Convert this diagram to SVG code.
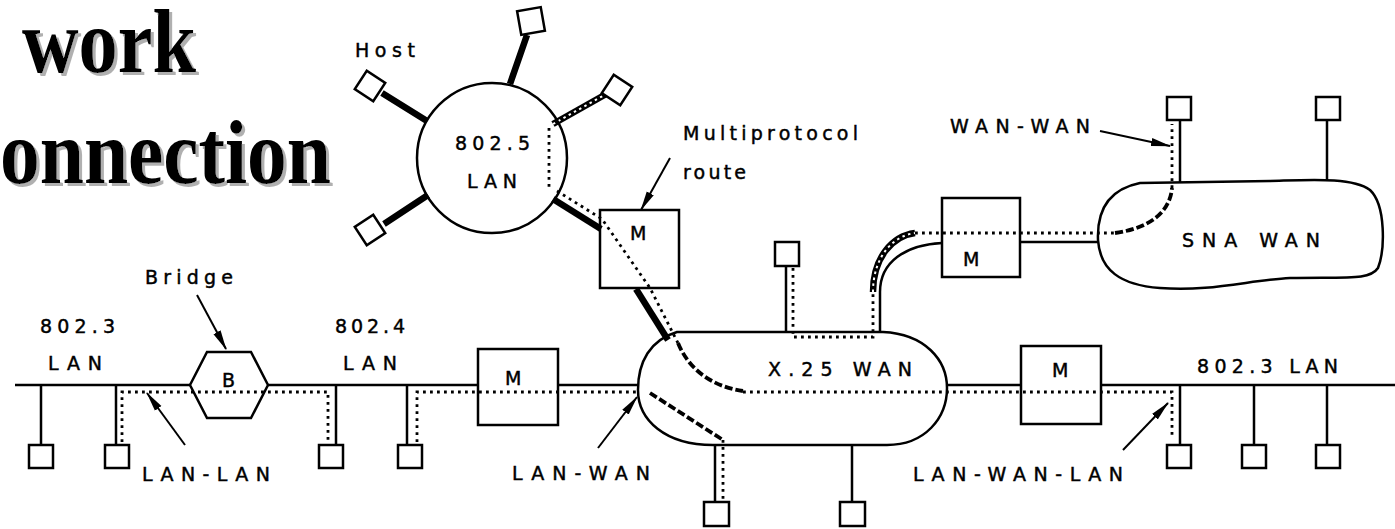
<svg xmlns="http://www.w3.org/2000/svg" width="1395" height="529" viewBox="0 0 1395 529">
<defs>
<marker id="ah" markerUnits="userSpaceOnUse" markerWidth="20" markerHeight="11" refX="19" refY="5.5" orient="auto"><path d="M0,1.5 L20,5.5 L0,9.5 z" fill="#000"/></marker>
<filter id="sh" x="-5%" y="-5%" width="115%" height="120%">
<feOffset in="SourceAlpha" dx="3" dy="3" result="o"/>
<feFlood flood-color="#b0b0b0"/>
<feComposite in2="o" operator="in" result="s"/>
<feMerge><feMergeNode in="s"/><feMergeNode in="SourceGraphic"/></feMerge>
</filter>
</defs>
<style>
.ln{stroke:#000;stroke-width:2.5;fill:none}
.tk{stroke:#000;stroke-width:6.5;fill:none}
.dt{stroke:#000;stroke-width:2.8;fill:none;stroke-dasharray:2.8 4.2}
.dh{stroke:#000;stroke-width:3.8;fill:none;stroke-dasharray:8 3}
.wd{stroke:#fff;stroke-width:2;fill:none;stroke-dasharray:2.5 3.5}
.host{fill:#fff;stroke:#000;stroke-width:2.5}
.nb{fill:none;stroke:#000;stroke-width:2.5}
.ar{stroke:#000;stroke-width:2;fill:none;marker-end:url(#ah)}
.t{font-family:"DejaVu Sans","Liberation Sans",sans-serif;font-size:19px;fill:#000;stroke:#000;stroke-width:0.45}
.ttl{font-family:"Liberation Serif","Times New Roman",serif;font-weight:bold;font-size:90px;fill:#000}
</style>
<rect width="1395" height="529" fill="#fff"/>
<g id="title" filter="url(#sh)">
<text class="ttl" x="22" y="72" textLength="174" lengthAdjust="spacingAndGlyphs">work</text>
<text class="ttl" x="0" y="183" textLength="331" lengthAdjust="spacingAndGlyphs">onnection</text>
</g>
<g id="connectors">
<path class="ln" d="M15,385 H190 M268,385 H478 M558,385 H639 M947,385 H1021 M1101,385 H1395"/>
<path class="ln" d="M41,385 V445 M116,385 V445 M336,385 V445 M407,385 V445 M1180,385 V445 M1254,385 V445 M1327,385 V445"/>
<path class="ln" d="M786,266 V332 M715,445 V502 M852,445 V502 M1180,120 V182 M1327,120 V180"/>
<path class="ln" d="M1020,242 H1099 M880,332 V292 C880,262 905,245 942,243"/>
<path class="tk" d="M382,93 L427,121 M384,224 L428,195 M527,35 L510,84"/>
<path class="tk" stroke-width="8" d="M553,124 L608,93"/>
<path class="wd" d="M553,124 L608,93"/>
<path class="tk" d="M553,199 L601,229"/>
<path class="tk" stroke-width="5" d="M636,289 L668,340"/>
<path class="dt" d="M549,128 V188 M557,191 L602,219 L650,288 L678,343"/>
<path class="dh" d="M678,343 C690,372 715,387 743,391"/>
<path class="dt" d="M743,392 H1172 V437"/>
<path class="dt" d="M122,442 V392 H328 V442"/>
<path class="dt" d="M417,442 V392 H640"/>
<path class="dh" d="M650,393 L723,440"/>
<path class="dt" d="M723,440 V500"/>
<path class="dt" d="M793,268 V337 H873 V290"/>
<path class="tk" stroke-width="7" d="M873,292 C873,258 892,236 915,233"/>
<path class="wd" d="M873,292 C873,258 892,236 915,233"/>
<path class="dt" d="M915,233 H1115"/>
<path class="dh" d="M1115,233 C1150,228 1170,212 1172,188"/>
<path class="dt" d="M1172,188 V124"/>
<path class="ar" d="M670,158 L641,210"/>
<path class="ar" d="M1100,131 L1170,146"/>
<path class="ar" d="M197,295 L226,349"/>
<path class="ar" d="M185,445 L147,393"/>
<path class="ar" d="M598,448 L637,397"/>
<path class="ar" d="M1123,450 L1168,403"/>
</g>
<g id="lan8025">
<circle class="nb" cx="492" cy="158" r="75"/>
<text class="t" x="455" y="150" textLength="75">802.5</text>
<text class="t" x="467" y="188" textLength="50">LAN</text>
</g>
<g id="ring-hosts">
<rect class="host" x="-11" y="-11" width="22" height="22" transform="translate(370,86) rotate(33)"/>
<rect class="host" x="-11" y="-11" width="22" height="22" transform="translate(370,230) rotate(-33)"/>
<rect class="host" x="-12" y="-12" width="24" height="24" transform="translate(531,21) rotate(-10)"/>
<rect class="host" x="-11" y="-11" width="22" height="22" transform="translate(617,90) rotate(33)"/>
<text class="t" x="355" y="57" textLength="60">Host</text>
</g>
<g id="router1">
<rect class="nb" x="600" y="210" width="79" height="78"/>
<text class="t" x="630" y="240" textLength="18">M</text>
<text class="t" x="683" y="140" textLength="175">Multiprotocol</text>
<text class="t" x="683" y="179" textLength="63">route</text>
</g>
<g id="x25wan">
<path class="nb" d="M677,332 L883,332 C925,334 947,360 947,388 C947,418 925,445 887,445 L713,445 C665,445 638,420 638,390 C638,362 650,340 677,332 Z"/>
<text class="t" x="768" y="376" textLength="144">X.25 WAN</text>
</g>
<g id="x25-hosts">
<rect class="host" x="775" y="242" width="24" height="24"/>
<rect class="host" x="704" y="502" width="25" height="24"/>
<rect class="host" x="840" y="502" width="25" height="24"/>
</g>
<g id="router2">
<rect class="nb" x="942" y="198" width="78" height="79"/>
<text class="t" x="963" y="266" textLength="20">M</text>
</g>
<g id="snawan">
<path class="nb" d="M1140,183 L1270,181 C1310,180 1352,177 1370,190 C1386,205 1385,250 1378,268 C1370,280 1350,277 1290,278 C1250,280 1210,292 1160,288 C1120,285 1100,270 1098,240 C1097,215 1105,190 1140,183 Z"/>
<text class="t" x="1182" y="247" textLength="138">SNA WAN</text>
<rect class="host" x="1167" y="97" width="24" height="23"/>
<rect class="host" x="1316" y="97" width="24" height="23"/>
<text class="t" x="950" y="133" textLength="140">WAN-WAN</text>
</g>
<g id="lan8023-left">
<text class="t" x="40" y="333" textLength="75">802.3</text>
<text class="t" x="48" y="370" textLength="54">LAN</text>
<rect class="host" x="29" y="445" width="24" height="23"/>
<rect class="host" x="105" y="445" width="24" height="23"/>
</g>
<g id="bridge">
<polygon class="nb" points="190,385 207,352 251,352 268,385 251,418 207,418"/>
<text class="t" x="222" y="387" textLength="16">B</text>
<text class="t" x="145" y="284" textLength="88">Bridge</text>
<text class="t" x="142" y="481" textLength="128">LAN-LAN</text>
</g>
<g id="lan8024">
<text class="t" x="335" y="333" textLength="70">802.4</text>
<text class="t" x="343" y="370" textLength="54">LAN</text>
<rect class="host" x="319" y="445" width="24" height="23"/>
<rect class="host" x="398" y="445" width="24" height="23"/>
</g>
<g id="router3">
<rect class="nb" x="478" y="349" width="80" height="76"/>
<text class="t" x="505" y="385" textLength="20">M</text>
<text class="t" x="512" y="480" textLength="138">LAN-WAN</text>
</g>
<g id="router4">
<rect class="nb" x="1021" y="346" width="80" height="78"/>
<text class="t" x="1052" y="377" textLength="20">M</text>
<text class="t" x="913" y="481" textLength="210">LAN-WAN-LAN</text>
</g>
<g id="lan8023-right">
<text class="t" x="1197" y="373" textLength="141">802.3 LAN</text>
<rect class="host" x="1167" y="445" width="24" height="23"/>
<rect class="host" x="1242" y="445" width="24" height="23"/>
<rect class="host" x="1316" y="445" width="24" height="23"/>
</g>
</svg>
